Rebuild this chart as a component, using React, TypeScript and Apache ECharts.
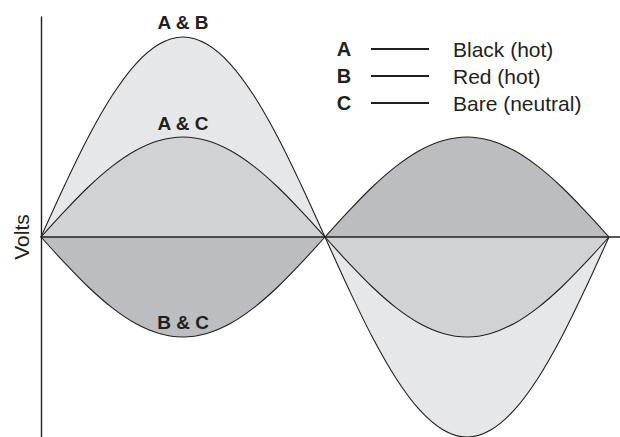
import React, { useEffect, useRef } from "react";
import * as echarts from "echarts";

// phase angle in degrees (two half-cycles)
const angles = [0, 15, 30, 45, 60, 75, 90, 105, 120, 135, 150, 165, 180, 195, 210, 225, 240, 255, 270, 285, 300, 315, 330, 345, 360];
// line-to-line voltage A & B
const voltsAB = [0, 88, 170, 240, 294, 328, 340, 328, 294, 240, 170, 88, 0, -88, -170, -240, -294, -328, -340, -328, -294, -240, -170, -88, 0];
// A to neutral
const voltsAC = [0, 44, 85, 120, 147, 164, 170, 164, 147, 120, 85, 44, 0, -44, -85, -120, -147, -164, -170, -164, -147, -120, -85, -44, 0];
// B to neutral
const voltsBC = [0, -44, -85, -120, -147, -164, -170, -164, -147, -120, -85, -44, 0, 44, 85, 120, 147, 164, 170, 164, 147, 120, 85, 44, 0];

const curveLabels = ["A & B", "A & C", "B & C"];
const legendKeys = ["A", "B", "C"];
const legendNames = ["Black (hot)", "Red (hot)", "Bare (neutral)"];

const INK = "#231f20";
const FONT = "'Liberation Sans', Arial, Helvetica, sans-serif";

export default function App() {
  const ref = useRef<HTMLDivElement>(null);
  useEffect(() => {
    if (!ref.current) return;
    const chart = echarts.init(ref.current, null, { renderer: "svg" });
    const pairs = (ys: number[]) => angles.map((a, i) => [a, ys[i]]);
    const mk = (name: string, ys: number[], fill: string, z: number) => ({
      name,
      type: "line",
      data: pairs(ys),
      smooth: 0.35,
      symbol: "none",
      z,
      clip: true,
      lineStyle: { color: INK, width: 1.1 },
      areaStyle: { color: fill, opacity: 1, origin: 0 },
    });
    const legendGraphics: any[] = [];
    const legendY = [49, 76, 103];
    legendKeys.forEach((k, i) => {
      legendGraphics.push({
        type: "text",
        x: 344,
        y: legendY[i],
        style: { text: k, font: `bold 20px ${FONT}`, fill: INK, textAlign: "center", textVerticalAlign: "middle" },
      });
      legendGraphics.push({
        type: "line",
        shape: { x1: 371, y1: legendY[i], x2: 429, y2: legendY[i] },
        style: { stroke: INK, lineWidth: 2 },
      });
      legendGraphics.push({
        type: "text",
        x: 453,
        y: legendY[i],
        style: { text: legendNames[i], font: `21px ${FONT}`, fill: INK, textAlign: "left", textVerticalAlign: "middle" },
      });
    });
    const labelY = [22, 123, 322];
    const curveGraphics = curveLabels.map((t, i) => ({
      type: "text",
      x: 183,
      y: labelY[i],
      z: 100,
      style: { text: t, font: `bold 19px ${FONT}`, fill: INK, textAlign: "center", textVerticalAlign: "middle" },
    }));
    chart.setOption({
      animation: false,
      backgroundColor: "#ffffff",
      grid: { left: 41, top: 17, right: 0, bottom: 0, containLabel: false },
      xAxis: {
        type: "value",
        min: 0,
        max: 367,
        z: 10,
        axisLine: { show: true, onZero: true, lineStyle: { color: INK, width: 1.5 } },
        axisTick: { show: false },
        axisLabel: { show: false },
        splitLine: { show: false },
      },
      yAxis: {
        type: "value",
        min: -340,
        max: 374,
        z: 10,
        axisLine: { show: true, lineStyle: { color: INK, width: 1.4 } },
        axisTick: { show: false },
        axisLabel: { show: false },
        splitLine: { show: false },
      },
      series: [
        mk("A & B", voltsAB, "#e6e7e8", 1),
        mk("A & C", voltsAC, "#d1d2d4", 2),
        mk("B & C", voltsBC, "#bcbdc0", 3),
      ],
      graphic: [
        {
          type: "text",
          x: 21,
          y: 237,
          rotation: Math.PI / 2,
          style: { text: "Volts", font: `21px ${FONT}`, fill: INK, textAlign: "center", textVerticalAlign: "middle" },
        },
        ...curveGraphics,
        ...legendGraphics,
      ],
    });
    return () => chart.dispose();
  }, []);
  return (
    <div
      ref={ref}
      style={{ position: "absolute", left: 0, top: 0, width: 620, height: 437, overflow: "hidden" }}
    />
  );
}
